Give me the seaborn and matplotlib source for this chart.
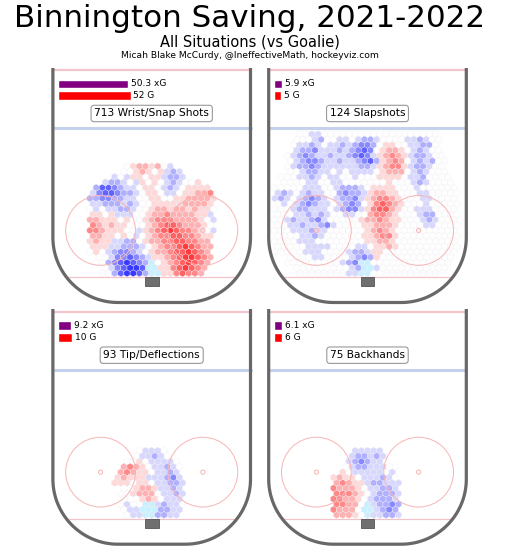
import numpy as np
import matplotlib
matplotlib.use("Agg")
import matplotlib.pyplot as plt
import seaborn as sns
from matplotlib.patches import Circle, Rectangle

goalie = "Binnington"
season = "2021-2022"
shot_types = ["Wrist/Snap Shots", "Slapshots", "Tip/Deflections", "Backhands"]
shot_counts = [713, 124, 93, 75]
expected_goals = [50.3, 5.9, 9.2, 6.1]
goals = [52, 5, 10, 6]

# hex cells, row -> (first column, codes)
# '.' no cell, '0' league average, '1'-'5' more shots (red), 'a'-'e' fewer (blue), '~' crease
wrist_rows = {
    18: (12, "0122120a"),
    19: (11, "0012101aba"),
    20: (10, "a0a11011abba"),
    21: (8, "abba0a1010aba001"),
    22: (7, "bddcbaa0110aba01111"),
    23: (6, "acddcbba0110aa011223"),
    24: (6, "bbccbbaa0011001122221"),
    25: (6, "aabbbaba001111122221"),
    26: (6, "0a0aabba0012212212110"),
    27: (6, "1101aaa001223222211a"),
    28: (6, "22111010012333222210a"),
    29: (6, "32121100012344322210"),
    30: (6, "33211100a12345433210a"),
    31: (6, "2211010a012334433211"),
    32: (6, "1211aabb012233443322"),
    33: (6, "111aabbba01233454322"),
    34: (6, "010abccba01223445432"),
    35: (7, "00accdcba1123455432"),
    36: (7, "00bcdedcb~012345432"),
    37: (8, "0acdeed~~11345432"),
    38: (8, "00bdeedb~~1134332"),
}
slap_rows = {
    12: (5, "00aa0000000000000000000"),
    13: (4, "000ab00aa0abba0000aaba00"),
    14: (4, "0aaba0aababccb01100aabb0"),
    15: (4, "abbcaaababcdc012210aba00"),
    16: (3, "0abcbaabaabcdca12321abba00"),
    17: (3, "0abccbaabaabcdb12320abab00"),
    18: (3, "0abbcbaaaaaabba12331abba00"),
    19: (3, "00abbaa0a0aaaa012220aba000"),
    20: (2, "000aaba0aa00a00011110aab0000"),
    21: (2, "0000aa00aa00000001000aba0000"),
    22: (1, "00000aaa00abbba01111000a000000"),
    23: (1, "aba0abaa00bcbba12211000aa00000"),
    24: (1, "aba0abcba0abbca123321000aa0000"),
    25: (1, "0a0abcbaa0abcb0134321000a00000"),
    26: (1, "000abbaaa0abcca13442100aaa0000"),
    27: (1, "000aababa00aa0023321000abb0000"),
    28: (1, "00abaabca000001223211000aba000"),
    29: (1, "00aabaabca00001122210000aa0000"),
    30: (1, "000aaabaa000000123210000000000"),
    31: (1, "0000aaba0000001123310000000000"),
    32: (1, "0000aaa00000000112210000000000"),
    33: (1, "00000aaaa0000aa011210000000000"),
    34: (1, "00000aaa0000abba11000000000000"),
    35: (3, "0000aa0000abcb1000000000000"),
    36: (3, "000000000abc~~0000000000000"),
    37: (4, "000000000ab~~a00000000000"),
    38: (5, "00000000aa~~00000000000"),
}
tip_rows = {
    26: (14, "0aaa0"),
    27: (13, "0aaba0"),
    28: (12, "0010aaaa0"),
    29: (11, "23210aaba0"),
    30: (11, "232110aaba"),
    31: (10, "12111aaabca"),
    32: (10, "1110110aabba"),
    33: (11, "001221aaba"),
    34: (11, "0012220aaba"),
    35: (11, "0001210aaa"),
    36: (11, "0a00~~abaa0"),
    37: (11, "0aa~~~bbaa"),
    38: (12, "0aa~~bbaa"),
}
back_rows = {
    26: (14, "aaaaa"),
    27: (13, "abbaba"),
    28: (13, "abcbaa0"),
    29: (12, "0abbaaa00"),
    30: (12, "10aaaaa0a"),
    31: (10, "12110aaaba0"),
    32: (11, "23211abbaaa"),
    33: (10, "322210aabba"),
    34: (11, "333210abbba"),
    35: (10, "332210abbba"),
    36: (11, "33220~abbcb"),
    37: (10, "32220~~abcb"),
    38: (11, "22210~aabba"),
}
panel_rows = [wrist_rows, slap_rows, tip_rows, back_rows]

code_value = {"0": 0, "~": -9}
for k in range(1, 6):
    code_value[str(k)] = k
    code_value["abcde"[k - 1]] = -k

# hex lattice (feet), same as hexbin's own grid
nx, ny = 32, 22
sx = 85 / nx
sy = sx * np.sqrt(3)
extent = (-42.5, 42.5, 0, ny * sy)


def cells(rows):
    xs, ys, vs = [], [], []
    for r, (start, codes) in rows.items():
        for k, ch in enumerate(codes):
            if ch == ".":
                continue
            xs.append(-42.5 + (start + k + 0.5 * (r % 2)) * sx)
            ys.append(r * sy / 2)
            vs.append(code_value[ch])
    return np.array(xs), np.array(ys), np.array(vs)


sns.set_style("white")
plt.rcParams["font.family"] = ["DejaVu Sans"]
plt.rcParams["text.color"] = "black"

cmap = sns.color_palette("bwr", as_cmap=True).copy()
cmap.set_under("#c8f0ff")

boards_c = "#686868"
red_c = "#f3c3ca"
blue_c = "#c5d2ee"
circle_c = "#f7b4b4"

W, H = 528, 551
fig = plt.figure(figsize=(W / 100, H / 100), dpi=100)

scale = 2.325  # px per foot
ax_w, ax_h = 88 * scale, 103 * scale
centers = [(151.7, 70), (367.5, 70), (151.7, 311.7), (367.5, 311.7)]


def draw_rink(ax):
    t1 = np.linspace(np.pi, np.pi / 2, 40)
    t2 = np.linspace(np.pi / 2, 0, 40)
    bx = np.concatenate([[-42.5, -42.5], -14.5 + 28 * np.cos(t1),
                         14.5 + 28 * np.cos(t2), [42.5, 42.5]])
    by = np.concatenate([[-1.5, 72], 72 + 28 * np.sin(t1),
                         72 + 28 * np.sin(t2), [72, -1.5]])
    ax.plot(bx, by, color=boards_c, lw=2.3, zorder=5, solid_capstyle="butt")
    ax.plot([-42.5, 42.5], [0, 0], color=red_c, lw=1.6, zorder=1)
    ax.plot([-42.5, 42.5], [25, 25], color=blue_c, lw=2.2, zorder=1)
    ax.plot([-36.7, 36.7], [89, 89], color=red_c, lw=0.9, zorder=3)
    for cx in (-22, 22):
        ax.add_patch(Circle((cx, 69), 15, fill=False, ec=circle_c, lw=0.7, zorder=3))
        ax.add_patch(Circle((cx, 69), 0.9, fill=False, ec=circle_c, lw=0.7, zorder=3))
    ax.add_patch(Rectangle((-3, 89), 6, 4, fc="#6f6f6f", ec="#555555", lw=0.6, zorder=4))


for n in range(4):
    cx, top = centers[n]
    left_px = cx - 44 * scale
    top_px = top - 1 * scale
    ax = fig.add_axes([left_px / W, 1 - (top_px + ax_h) / H, ax_w / W, ax_h / H])
    ax.set_xlim(-44, 44)
    ax.set_ylim(102, -1)
    ax.axis("off")

    x, y, v = cells(panel_rows[n])
    ax.hexbin(x, y, C=v, gridsize=(nx, ny), extent=extent, cmap=cmap,
              vmin=-6.5, vmax=6.5, reduce_C_function=np.mean,
              edgecolors="#efeff4", linewidths=0.25, zorder=2)
    draw_rink(ax)

    ax.barh([6, 11], [expected_goals[n] * 0.6, goals[n] * 0.6], left=-40.3,
            height=3.8, color=["purple", "red"], zorder=4)
    ax.text(-40.3 + expected_goals[n] * 0.6 + 1.2, 6, f"{expected_goals[n]} xG",
            fontsize=6.5, va="center", ha="left", zorder=4)
    ax.text(-40.3 + goals[n] * 0.6 + 1.2, 11, f"{goals[n]} G",
            fontsize=6.5, va="center", ha="left", zorder=4)
    ax.text(0, 18.7, f"{shot_counts[n]} {shot_types[n]}", fontsize=7.7,
            ha="center", va="center", zorder=4,
            bbox=dict(boxstyle="round,pad=0.3", fc="white", ec="#999999", lw=0.8))

fig.text(250 / W, 1 - 27 / H, f"{goalie} Saving, {season}", fontsize=22.3,
         ha="center", va="baseline")
fig.text(250 / W, 1 - 46.5 / H, "All Situations (vs Goalie)", fontsize=10.5,
         ha="center", va="baseline")
fig.text(250 / W, 1 - 58 / H, "Micah Blake McCurdy, @IneffectiveMath, hockeyviz.com",
         fontsize=6.6, ha="center", va="baseline")

fig.savefig("out.png", dpi=100, facecolor="white")
